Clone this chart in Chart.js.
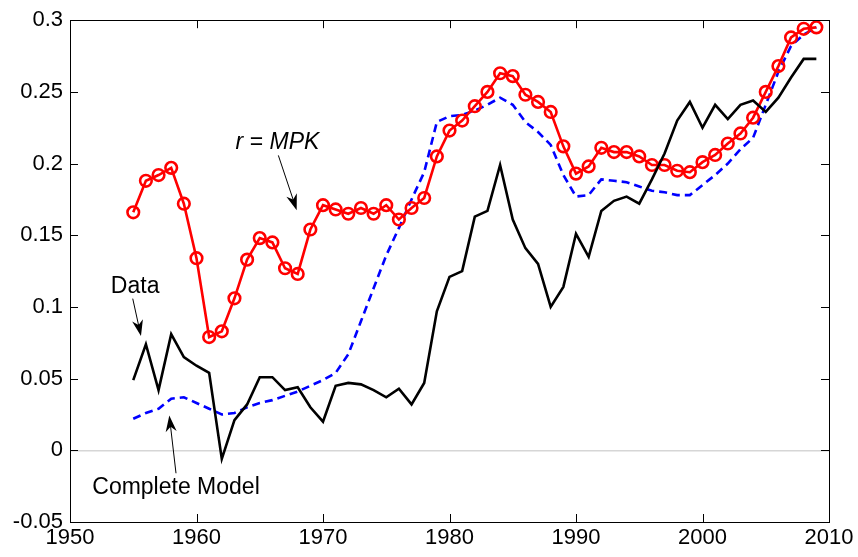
<!DOCTYPE html>
<html>
<head>
<meta charset="utf-8">
<script src="https://cdn.jsdelivr.net/npm/chart.js@4"></script>
<style>
    html, body { margin: 0; padding: 0; background: #fff; }
    #chart { display: block; }
</style>
</head>
<body>
<canvas id="chart" width="858" height="557"></canvas>
<script>
const years = [
    1955, 1956, 1957, 1958, 1959, 1960, 1961, 1962, 1963, 1964,
    1965, 1966, 1967, 1968, 1969, 1970, 1971, 1972, 1973, 1974,
    1975, 1976, 1977, 1978, 1979, 1980, 1981, 1982, 1983, 1984,
    1985, 1986, 1987, 1988, 1989, 1990, 1991, 1992, 1993, 1994,
    1995, 1996, 1997, 1998, 1999, 2000, 2001, 2002, 2003, 2004,
    2005, 2006, 2007, 2008, 2009
];

// observed return on capital
const dataValues = [
    0.049, 0.074, 0.042, 0.081, 0.065, 0.059, 0.054, -0.006, 0.021, 0.032,
    0.051, 0.051, 0.042, 0.044, 0.030, 0.020, 0.045, 0.047, 0.046, 0.042,
    0.037, 0.043, 0.032, 0.047, 0.097, 0.121, 0.125, 0.163, 0.167, 0.199,
    0.161, 0.141, 0.130, 0.100, 0.114, 0.151, 0.135, 0.167, 0.174, 0.177,
    0.172, 0.189, 0.207, 0.230, 0.243, 0.225, 0.241, 0.231, 0.241, 0.244,
    0.236, 0.246, 0.260, 0.273, 0.273
];

// complete model
const modelValues = [
    0.022, 0.026, 0.029, 0.036, 0.037, 0.033, 0.029, 0.025, 0.026, 0.030,
    0.033, 0.035, 0.038, 0.041, 0.045, 0.049, 0.054, 0.067, 0.090, 0.113,
    0.136, 0.155, 0.175, 0.194, 0.229, 0.233, 0.234, 0.237, 0.241, 0.246,
    0.241, 0.229, 0.222, 0.213, 0.192, 0.177, 0.178, 0.189, 0.188, 0.187,
    0.184, 0.181, 0.180, 0.178, 0.178, 0.185, 0.192, 0.200, 0.210, 0.218,
    0.241, 0.264, 0.282, 0.290, 0.295
];

// r = MPK
const mpkValues = [
    0.166, 0.188, 0.192, 0.197, 0.172, 0.134, 0.079, 0.083, 0.106, 0.133,
    0.148, 0.145, 0.127, 0.123, 0.154, 0.171, 0.168, 0.165, 0.169, 0.165,
    0.171, 0.161, 0.169, 0.176, 0.205, 0.223, 0.230, 0.240, 0.250, 0.263,
    0.261, 0.248, 0.243, 0.236, 0.212, 0.193, 0.198, 0.211, 0.208, 0.208,
    0.205, 0.199, 0.199, 0.195, 0.194, 0.201, 0.206, 0.214, 0.221, 0.232,
    0.250, 0.268, 0.288, 0.294, 0.295
];

const xTicks = [1950, 1960, 1970, 1980, 1990, 2000, 2010];
const yTicks = [-0.05, 0, 0.05, 0.1, 0.15, 0.2, 0.25, 0.3];
const yTickLabels = ["-0.05", "0", "0.05", "0.1", "0.15", "0.2", "0.25", "0.3"];

const FONT = "'Liberation Sans', Arial, sans-serif";

function points(values) {
    return years.map((yr, i) => ({ x: yr, y: values[i] }));
}

// text labels and arrows, placed in data units
const notes = [
    { text: [["Data", false]], x: 1955.15, y: 0.1144,
      arrow: [1954.96, 0.1058, 1955.61, 0.0797] },
    { text: [["Complete Model", false]], x: 1958.38, y: -0.0257,
      arrow: [1958.38, -0.0160, 1957.85, 0.0242] },
    { text: [["r", true], [" = ", false], ["MPK", true]], x: 1966.40, y: 0.2149,
      arrow: [1966.47, 0.2057, 1967.92, 0.1675] }
];

function drawArrow(ctx, x0, y0, x1, y1) {
    const ang = Math.atan2(y1 - y0, x1 - x0);
    const len = 16, half = 5.5;
    ctx.save();
    ctx.strokeStyle = "#000";
    ctx.fillStyle = "#000";
    ctx.lineWidth = 1;
    ctx.beginPath();
    ctx.moveTo(x0, y0);
    ctx.lineTo(x1 - Math.cos(ang) * 8, y1 - Math.sin(ang) * 8);
    ctx.stroke();
    ctx.translate(x1, y1);
    ctx.rotate(ang);
    ctx.beginPath();
    ctx.moveTo(0, 0);
    ctx.lineTo(-len, -half);
    ctx.lineTo(-len * 0.7, 0);
    ctx.lineTo(-len, half);
    ctx.closePath();
    ctx.fill();
    ctx.restore();
}

const framePlugin = {
    id: "frame",
    afterDatasetsDraw(chart) {
        const { ctx, chartArea: a, scales } = chart;
        const tick = 8;
        ctx.save();
        ctx.strokeStyle = "#000";
        ctx.lineWidth = 1;
        ctx.strokeRect(Math.round(a.left) + 0.5, Math.round(a.top) + 0.5,
            Math.round(a.right - a.left), Math.round(a.bottom - a.top));
        ctx.beginPath();
        xTicks.forEach(v => {
            const px = Math.round(scales.x.getPixelForValue(v)) + 0.5;
            ctx.moveTo(px, a.bottom); ctx.lineTo(px, a.bottom - tick);
            ctx.moveTo(px, a.top); ctx.lineTo(px, a.top + tick);
        });
        yTicks.forEach(v => {
            const py = Math.round(scales.y.getPixelForValue(v)) + 0.5;
            ctx.moveTo(a.left, py); ctx.lineTo(a.left + tick, py);
            ctx.moveTo(a.right, py); ctx.lineTo(a.right - tick, py);
        });
        ctx.stroke();

        // annotations
        ctx.fillStyle = "#000";
        ctx.textBaseline = "middle";
        notes.forEach(n => {
            const cx = scales.x.getPixelForValue(n.x);
            const cy = scales.y.getPixelForValue(n.y);
            const parts = n.text.map(([s, it]) => {
                ctx.font = (it ? "italic " : "") + "23px " + FONT;
                return { s, it, w: ctx.measureText(s).width };
            });
            const total = parts.reduce((t, p) => t + p.w, 0);
            let x = cx - total / 2;
            ctx.textAlign = "left";
            parts.forEach(p => {
                ctx.font = (p.it ? "italic " : "") + "23px " + FONT;
                ctx.fillText(p.s, x, cy);
                x += p.w;
            });
            const [ax0, ay0, ax1, ay1] = n.arrow;
            drawArrow(ctx,
                scales.x.getPixelForValue(ax0), scales.y.getPixelForValue(ay0),
                scales.x.getPixelForValue(ax1), scales.y.getPixelForValue(ay1));
        });
        ctx.restore();
    }
};

new Chart(document.getElementById("chart"), {
    type: "line",
    data: {
        datasets: [
            {
                label: "Data",
                data: points(dataValues),
                borderColor: "#000",
                borderWidth: 2.6,
                pointRadius: 0,
                tension: 0,
                order: 0
            },
            {
                label: "r = MPK",
                data: points(mpkValues),
                borderColor: "#ff0000",
                borderWidth: 2.6,
                pointRadius: 5.8,
                pointBorderWidth: 2.6,
                pointBorderColor: "#ff0000",
                pointBackgroundColor: "rgba(0,0,0,0)",
                tension: 0,
                order: 1
            },
            {
                label: "Complete Model",
                data: points(modelValues),
                borderColor: "#0000ff",
                borderWidth: 2.6,
                borderDash: [8, 5],
                pointRadius: 0,
                tension: 0,
                order: 2
            }
        ]
    },
    options: {
        responsive: false,
        animation: false,
        devicePixelRatio: 1,
        layout: { padding: { left: 0, right: 29, top: 17, bottom: 0 } },
        plugins: {
            legend: { display: false },
            tooltip: { enabled: false }
        },
        scales: {
            x: {
                type: "linear",
                min: 1950,
                max: 2010,
                afterBuildTicks: s => { s.ticks = xTicks.map(v => ({ value: v })); },
                afterFit: s => { s.height = 35; },
                border: { display: false },
                grid: { display: false, drawTicks: false },
                ticks: {
                    color: "#000",
                    padding: 3,
                    maxRotation: 0,
                    font: { family: FONT, size: 22 },
                    callback: v => String(v)
                }
            },
            y: {
                min: -0.05,
                max: 0.3,
                afterBuildTicks: s => { s.ticks = yTicks.map(v => ({ value: v })); },
                afterFit: s => { s.width = 70; },
                border: { display: false },
                grid: {
                    drawTicks: false,
                    lineWidth: 1.5,
                    color: c => (c.tick && c.tick.value === 0 ? "#d6d6d6" : "rgba(0,0,0,0)")
                },
                ticks: {
                    color: "#000",
                    padding: 7,
                    font: { family: FONT, size: 22 },
                    callback: (v, i) => yTickLabels[i]
                }
            }
        }
    },
    plugins: [framePlugin]
});
</script>
</body>
</html>
